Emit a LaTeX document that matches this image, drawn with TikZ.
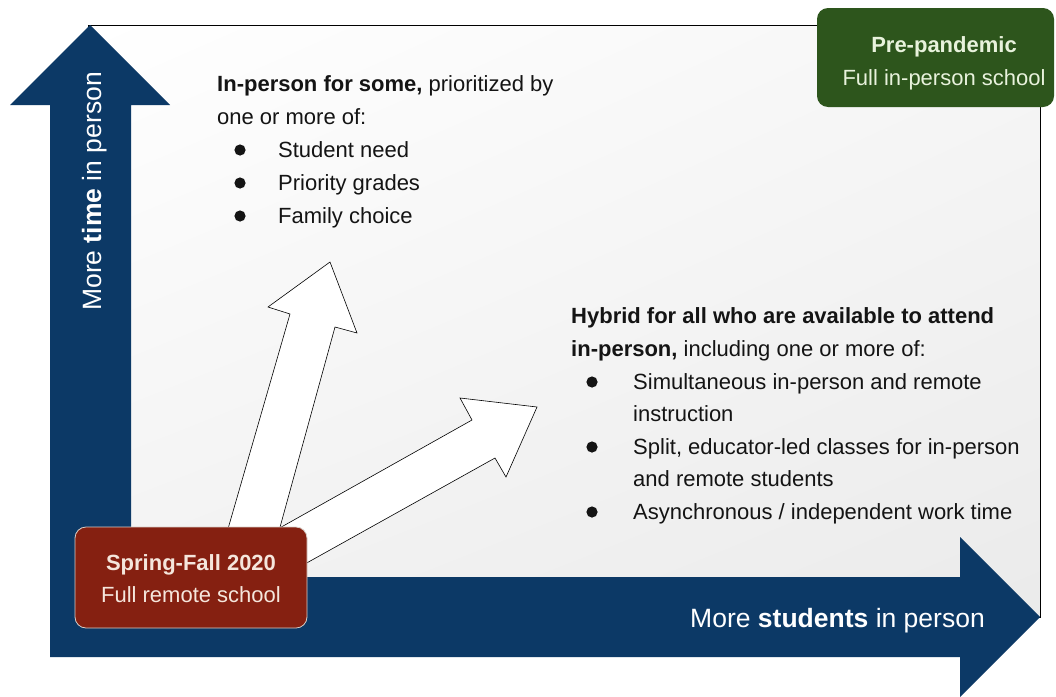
\documentclass[tikz,border=0pt]{standalone}
\usepackage{fontspec}
\usetikzlibrary{shadings}
\setmainfont{Liberation Sans}
\definecolor{navy}{HTML}{0C3966}
\definecolor{boxred}{HTML}{852011}
\definecolor{boxgreen}{HTML}{2D551C}
\definecolor{redtxt}{HTML}{F5E6DC}
\definecolor{greentxt}{HTML}{E8F2DC}
\definecolor{bodytxt}{HTML}{141414}
\definecolor{boxedge}{HTML}{D9CFC8}
\tikzset{
  bodyfont/.style={font=\fontsize{22}{26}\selectfont, text=bodytxt, inner sep=0pt},
  txtline/.style={bodyfont, anchor=base west},
  axislbl/.style={font=\fontsize{26.5}{30}\selectfont, text=white, inner sep=0pt, anchor=base},
  bul/.style={fill=bodytxt},
  whitearrow/.style={fill=white, draw=black, line width=0.6pt, line join=miter},
  tagbox/.style={rounded corners=11pt, draw=boxedge, line width=0.8pt},
  tagbold/.style={font=\fontsize{22}{26}\selectfont\bfseries, inner sep=0pt, anchor=base},
  tagreg/.style={font=\fontsize{22}{26}\selectfont, inner sep=0pt, anchor=base}
}
\begin{document}
\begin{tikzpicture}[x=1pt,y=-1pt]
\useasboundingbox (0,0) rectangle (1056,696);
\fill[white] (0,0) rectangle (1056,696);
% panel
\shade[upper left=white, upper right=gray!7, lower left=gray!10, lower right=gray!16] (88,25) rectangle (1040,617);
\draw[line width=0.8pt] (88,25) rectangle (1040,617);
% axis arrows
\fill[navy] (90,25) -- (170,105) -- (131,105) -- (131,577) -- (960,577) -- (960,537) -- (1040,617) -- (960,697) -- (960,657) -- (50,657) -- (50,105) -- (10,105) -- cycle;
\node[axislbl, rotate=90] (ylab) at (101,191.5) {More \textbf{time} in person};
\node[axislbl] (xlab) at (837.5,627) {More \textbf{students} in person};
% white arrows
\filldraw[whitearrow] (219,560) -- (290,314) -- (268,307) -- (330,262) -- (357,333) -- (335,327) -- (271,560) -- cycle;
\filldraw[whitearrow] (260,539) -- (472,420) -- (460,398) -- (537,407) -- (506,477) -- (495,458) -- (260,589) -- cycle;
% red box
\node[tagbox, fill=boxred, minimum width=232pt, minimum height=101pt] (remote) at (191,577.5) {};
\node[tagbold, text=redtxt] (remote1) at (191,570) {Spring-Fall 2020};
\node[tagreg, text=redtxt] (remote2) at (191,602) {Full remote school};
% green box
\node[tagbox, fill=boxgreen, draw=none, minimum width=237pt, minimum height=99pt] (pre) at (935.5,57.5) {};
\node[tagbold, text=greentxt] (pre1) at (944,52) {Pre-pandemic};
\node[tagreg, text=greentxt] (pre2) at (944,85) {Full in-person school};
% text block 1
\node[txtline] (a1) at (217,91) {\textbf{In-person for some,} prioritized by};
\node[txtline] (a2) at (217,124) {one or more of:};
\node[txtline] (a3) at (278,157) {Student need};
\node[txtline] (a4) at (278,190) {Priority grades};
\node[txtline] (a5) at (278,223) {Family choice};
\fill[bul] (240,150) circle (5.6);
\fill[bul] (240,183) circle (5.6);
\fill[bul] (240,216) circle (5.6);
% text block 2
\node[txtline] (b1) at (571,323) {\textbf{Hybrid for all who are available to attend}};
\node[txtline] (b2) at (571,356) {\textbf{in-person,} including one or more of:};
\node[txtline] (b3) at (633,389) {Simultaneous in-person and remote};
\node[txtline] (b4) at (633,421) {instruction};
\node[txtline] (b5) at (633,454) {Split, educator-led classes for in-person};
\node[txtline] (b6) at (633,486) {and remote students};
\node[txtline] (b7) at (633,519) {Asynchronous / independent work time};
\fill[bul] (592,382) circle (5.6);
\fill[bul] (592,447) circle (5.6);
\fill[bul] (592,512) circle (5.6);
\end{tikzpicture}
\end{document}
